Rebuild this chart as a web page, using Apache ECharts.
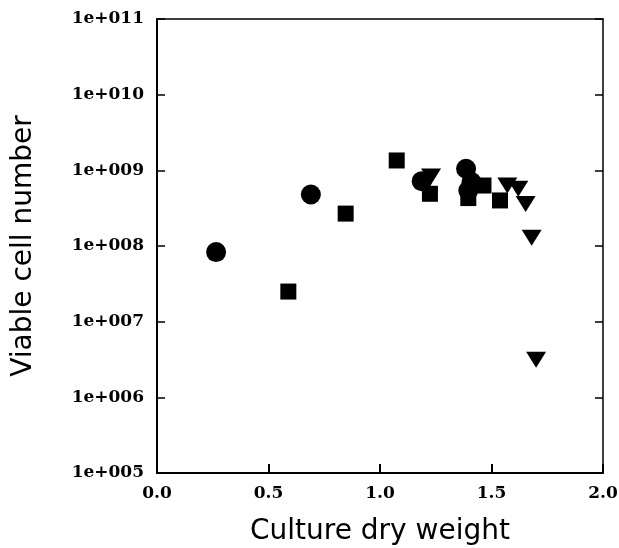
<!DOCTYPE html>
<html>
<head>
<meta charset="utf-8">
<script src="https://cdn.jsdelivr.net/npm/echarts@6/dist/echarts.min.js"></script>
<style>
  html, body { margin: 0; padding: 0; background: #fff; }
  #myChart { width: 619px; height: 548px; }
</style>
</head>
<body>
<div id="myChart"></div>
<script>
// data
var circleX = [0.265, 0.69, 1.187, 1.386, 1.41, 1.396];
var circleY = [8.3e7, 4.8e8, 7.2e8, 1.05e9, 7.0e8, 5.4e8];
var squareX = [0.589, 0.846, 1.075, 1.224, 1.396, 1.464, 1.538];
var squareY = [2.5e7, 2.68e8, 1.35e9, 4.9e8, 4.3e8, 6.3e8, 4.0e8];
var triX = [1.229, 1.571, 1.62, 1.653, 1.68, 1.70];
var triY = [8.3e8, 6.3e8, 5.7e8, 3.6e8, 1.29e8, 3.15e6];
var xTicks = ['0.0', '0.5', '1.0', '1.5', '2.0'];

function pairs(xs, ys) {
    var out = [];
    for (var i = 0; i < xs.length; i++) out.push([xs[i], ys[i]]);
    return out;
}

// 1e+011 style labels
function expLabel(v) {
    var e = Math.round(Math.log10(v));
    return '1e+' + String(e).padStart(3, '0');
}

var labelFont = {
    color: '#000',
    fontFamily: 'DejaVu Serif',
    fontWeight: 'bold',
    fontSize: 17
};
var titleFont = { color: '#000', fontFamily: 'DejaVu Sans', fontSize: 28 };

var myChart = echarts.init(document.getElementById("myChart"));
var option = {
    animation: false,
    backgroundColor: '#fff',
    grid: {
        left: 157,
        right: 16,
        top: 19,
        bottom: 75,
        containLabel: false,
        outerBoundsMode: 'none'
    },
    xAxis: [
        {
            type: 'value',
            min: 0,
            max: 2,
            interval: 0.5,
            name: 'Culture dry weight',
            nameLocation: 'middle',
            nameGap: 45,
            nameTextStyle: titleFont,
            axisLine: { show: true, lineStyle: { color: '#000', width: 2 } },
            axisTick: { show: true, inside: true, length: 9, lineStyle: { color: '#000', width: 2 } },
            splitLine: { show: false },
            axisLabel: Object.assign({
                margin: 12,
                formatter: function (v) { return xTicks[Math.round(v * 2)]; }
            }, labelFont)
        },
        {
            type: 'value',
            position: 'top',
            min: 0,
            max: 2,
            axisLine: { show: true, onZero: false, lineStyle: { color: '#000', width: 1.5 } },
            axisTick: { show: false },
            axisLabel: { show: false },
            splitLine: { show: false }
        }
    ],
    yAxis: [
        {
            type: 'log',
            logBase: 10,
            min: 1e5,
            max: 1e11,
            name: 'Viable cell number',
            nameLocation: 'middle',
            nameGap: 119,
            nameTextStyle: titleFont,
            axisLine: { show: true, lineStyle: { color: '#000', width: 2 } },
            axisTick: { show: true, inside: true, length: 8, lineStyle: { color: '#000', width: 1.5 } },
            splitLine: { show: false },
            axisLabel: Object.assign({ margin: 13, formatter: expLabel }, labelFont)
        },
        {
            type: 'log',
            logBase: 10,
            min: 1e5,
            max: 1e11,
            position: 'right',
            axisLine: { show: true, onZero: false, lineStyle: { color: '#000', width: 1.5 } },
            axisTick: { show: true, inside: true, length: 8, lineStyle: { color: '#000', width: 1.5 } },
            axisLabel: { show: false },
            splitLine: { show: false }
        }
    ],
    series: [
        {
            name: 'circle',
            type: 'scatter',
            symbol: 'circle',
            symbolSize: 20,
            itemStyle: { color: '#000', opacity: 1 },
            data: pairs(circleX, circleY)
        },
        {
            name: 'square',
            type: 'scatter',
            symbol: 'rect',
            symbolSize: 16,
            itemStyle: { color: '#000', opacity: 1 },
            data: pairs(squareX, squareY)
        },
        {
            name: 'triangle',
            type: 'scatter',
            symbol: 'triangle',
            symbolRotate: 180,
            symbolSize: [20, 16],
            itemStyle: { color: '#000', opacity: 1 },
            data: pairs(triX, triY)
        }
    ]
};
myChart.setOption(option);
</script>
</body>
</html>
